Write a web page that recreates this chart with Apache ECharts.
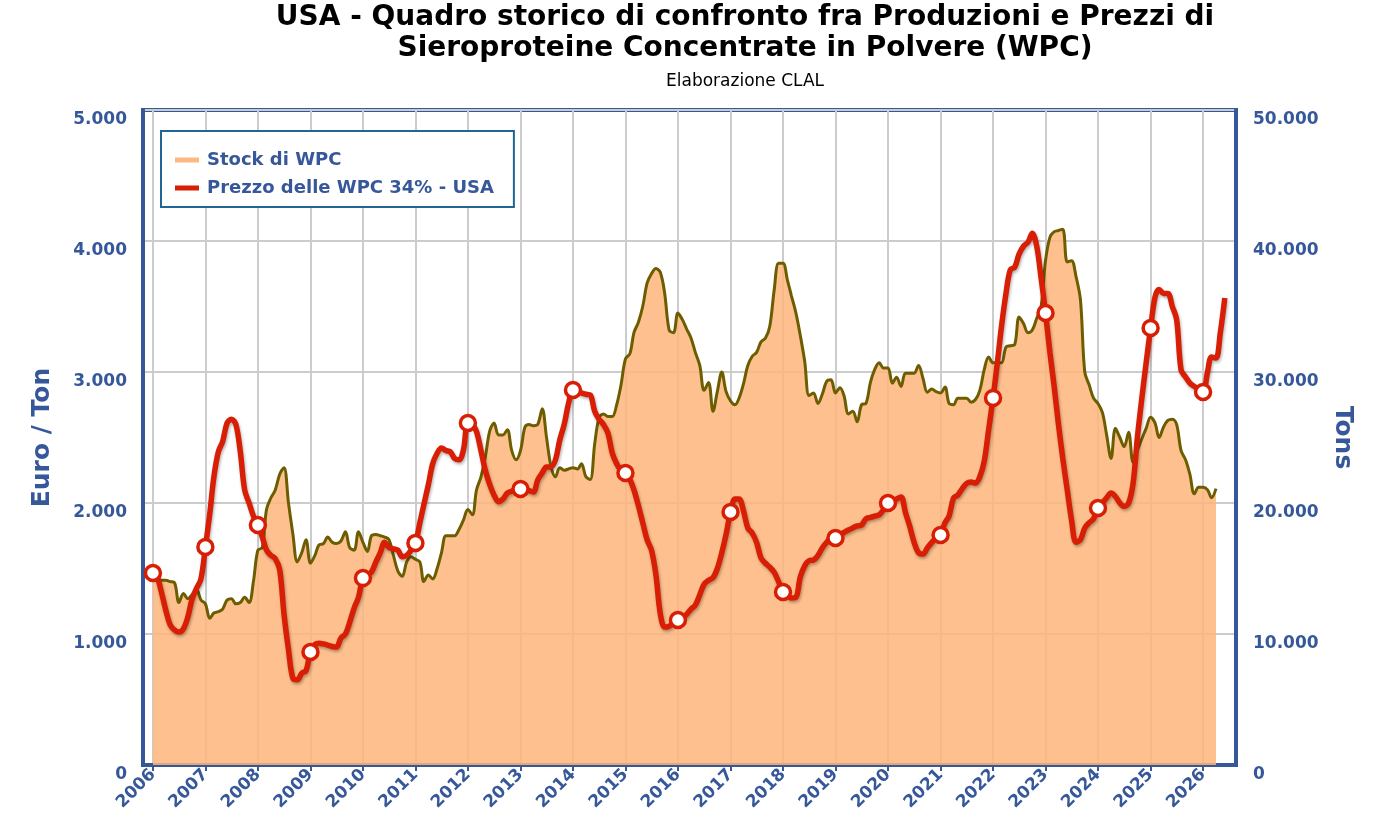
<!DOCTYPE html>
<html>
<head>
<meta charset="utf-8">
<title>USA - WPC</title>
<script src="https://cdn.jsdelivr.net/npm/echarts@6/dist/echarts.min.js"></script>
<style>
  html, body { margin: 0; padding: 0; background: #fff; }
  #chart { width: 1380px; height: 840px; }
</style>
</head>
<body>
<div id="chart"></div>
<script>
// --- DATI (mensili, da gennaio 2006) ---
const startYear = 2006;

// Stock di WPC, tonnellate (asse destro)
const stockTons = [
  14200, 14200, 14100, 14100, 14000, 13900, 12400, 13100, 12700, 13000, 13400, 12600, // 2006
  12300, 11200, 11600, 11700, 11900, 12600, 12700, 12300, 12400, 12800, 12400, 14000, // 2007
  16400, 16600, 19500, 20400, 21000, 22200, 22700, 20000, 17600, 15500, 16200, 17200, // 2008
  15400, 16000, 16800, 16900, 17400, 17000, 16900, 17100, 17800, 16600, 16400, 17800, // 2009
  17000, 16300, 17500, 17600, 17500, 17400, 17200, 16000, 14800, 14400, 15500, 15900, // 2010
  15700, 15500, 14000, 14500, 14200, 15000, 16200, 17500, 17500, 17500, 18000, 18700, // 2011
  19500, 19100, 21000, 22000, 23500, 25500, 26100, 25200, 25200, 25600, 24000, 23300, // 2012
  24000, 25800, 26000, 25900, 26000, 27200, 25000, 22800, 22000, 22700, 22500, 22600, // 2013
  22700, 22600, 23000, 22000, 21800, 24500, 26500, 26800, 26600, 26600, 27500, 29000, // 2014
  31000, 31400, 33000, 33800, 35000, 36800, 37500, 37900, 37600, 36000, 33200, 33000, // 2015
  34500, 34000, 33300, 32600, 31500, 30500, 28600, 29200, 27000, 28500, 30000, 28500, // 2016
  27800, 27500, 28000, 29100, 30500, 31200, 31500, 32300, 32600, 33500, 36300, 38300, // 2017
  38300, 37000, 35800, 34500, 32800, 30800, 28200, 28400, 27600, 28300, 29300, 29400, // 2018
  28400, 28800, 28200, 26800, 27000, 26200, 27500, 27600, 29200, 30200, 30700, 30300, // 2019
  30300, 29150, 29600, 28900, 29900, 29900, 29900, 30500, 29500, 28450, 28700, 28500, // 2020
  28400, 28850, 27600, 27500, 28000, 28000, 28000, 27700, 27900, 28600, 30200, 31150, // 2021
  30700, 30700, 30700, 31900, 32000, 32100, 34200, 33700, 33000, 33200, 34100, 34950, // 2022
  38500, 40300, 40700, 40800, 40900, 38400, 38500, 37300, 35500, 30000, 29000, 28000, // 2023
  27600, 26900, 25200, 23400, 25700, 25000, 24300, 25400, 23100, 24000, 24900, 25700, // 2024
  26550, 26100, 25000, 25800, 26300, 26400, 26000, 24000, 23300, 22200, 20700, 21200, // 2025
  21200, 21000, 20400, 21100                                                          // 2026
];

// Prezzo delle WPC 34% - USA, Euro/Ton (asse sinistro)
const priceEuro = [
  1466, 1430, 1320, 1180, 1070, 1030, 1015, 1040, 1130, 1270, 1350, 1420, // 2006
  1664, 1924, 2200, 2390, 2470, 2610, 2640, 2600, 2390, 2100, 2000, 1900, // 2007
  1832, 1740, 1640, 1600, 1575, 1489, 1150, 880, 660, 650, 700, 720,      // 2008
  863, 920, 930, 925, 915, 905, 900, 970, 1000, 1090, 1200, 1280,         // 2009
  1427, 1450, 1473, 1550, 1620, 1700, 1660, 1650, 1640, 1590, 1600, 1640, // 2010
  1695, 1850, 1990, 2140, 2300, 2380, 2420, 2400, 2390, 2340, 2330, 2405, // 2011
  2611, 2600, 2545, 2400, 2250, 2140, 2060, 2010, 2030, 2076, 2090, 2100, // 2012
  2107, 2110, 2095, 2084, 2176, 2230, 2275, 2275, 2330, 2481, 2600, 2760, // 2013
  2863, 2850, 2840, 2830, 2825, 2700, 2640, 2600, 2534, 2382, 2300, 2250, // 2014
  2229, 2180, 2100, 1980, 1850, 1718, 1640, 1450, 1150, 1053, 1060, 1084, // 2015
  1107, 1120, 1150, 1190, 1220, 1300, 1380, 1410, 1430, 1500, 1620, 1760, // 2016
  1931, 2030, 2030, 1940, 1810, 1770, 1700, 1580, 1540, 1510, 1470, 1400, // 2017
  1321, 1290, 1275, 1280, 1435, 1520, 1560, 1565, 1600, 1657, 1700, 1733, // 2018
  1733, 1760, 1775, 1794, 1810, 1825, 1832, 1880, 1890, 1900, 1910, 1950, // 2019
  2000, 2020, 2030, 2046, 1930, 1820, 1700, 1620, 1610, 1657, 1700, 1730, // 2020
  1756, 1850, 1900, 2038, 2061, 2110, 2150, 2160, 2153, 2200, 2320, 2557, // 2021
  2802, 3080, 3350, 3600, 3779, 3800, 3900, 3960, 3990, 4060, 3960, 3720, // 2022
  3450, 3145, 2900, 2600, 2340, 2100, 1870, 1700, 1720, 1810, 1850, 1880, // 2023
  1962, 2000, 2040, 2076, 2050, 2000, 1975, 2000, 2150, 2500, 2800, 3069, // 2024
  3336, 3573, 3630, 3600, 3600, 3500, 3400, 3015, 2962, 2916, 2890, 2870, // 2025
  2847, 3000, 3115, 3107, 3300, 3565                                      // 2026
];

const seriesNames = ["Stock di WPC", "Prezzo delle WPC 34% - USA"];

// --- COLORI ---
const blue = "#36589a";
const olive = "#6b5d00";
const red = "#d81e05";
const orangeFill = "rgba(253, 181, 122, 0.85)";
const orangeLegend = "#fdb982";
const font = "DejaVu Sans";

function monthDate(i) {
  return Date.UTC(startYear, i, 1);
}

function fmtThousands(v) {
  return String(v).replace(/\B(?=(\d{3})+(?!\d))/g, ".");
}

const stockPoints = stockTons.map((v, i) => [monthDate(i), v]);
const pricePoints = priceEuro.map((v, i) => {
  // marker bianco solo a gennaio
  if (i % 12 === 0) return { value: [monthDate(i), v], symbol: "circle" };
  return { value: [monthDate(i), v], symbol: "none" };
});

const chart = echarts.init(document.getElementById("chart"));
const DAY = 24 * 3600 * 1000;

const yLabel = {
  fontFamily: font,
  fontSize: 17,
  fontWeight: "bold",
  color: blue,
  verticalAlign: "top",
  lineHeight: 19,
  formatter: fmtThousands,
};

const option = {
  animation: false,
  useUTC: true,
  backgroundColor: "#fff",
  textStyle: { fontFamily: font },
  title: {
    text: "USA - Quadro storico di confronto fra Produzioni e Prezzi di\nSieroproteine Concentrate in Polvere (WPC)",
    subtext: "Elaborazione CLAL",
    left: 740,
    textAlign: "center",
    top: -3,
    itemGap: 9,
    textStyle: { fontFamily: font, fontSize: 28, fontWeight: "bold", color: "#000", lineHeight: 31 },
    subtextStyle: { fontFamily: font, fontSize: 17, color: "#000" },
  },
  legend: {
    orient: "vertical",
    left: 161,
    top: 131,
    padding: [20, 20, 10, 14],
    itemGap: 10,
    itemWidth: 24,
    itemHeight: 5,
    icon: "rect",
    borderColor: "#1f6694",
    borderWidth: 2,
    backgroundColor: "#fff",
    textStyle: { fontFamily: font, fontSize: 18, fontWeight: "bold", color: blue, padding: [0, 0, 0, 3] },
    data: [
      { name: seriesNames[0], itemStyle: { color: orangeLegend, borderWidth: 0 } },
      { name: seriesNames[1], itemStyle: { color: red, borderWidth: 0 } },
    ],
  },
  grid: {
    left: 143,
    right: 144,
    top: 110,
    bottom: 75,
    show: true,
    borderColor: blue,
    borderWidth: 4,
    backgroundColor: "#fff",
  },
  xAxis: {
    type: "time",
    min: Date.UTC(2005, 9, 24),
    max: Date.UTC(2026, 7, 18),
    splitNumber: 20,
    minInterval: 365 * DAY,
    maxInterval: 366 * DAY,
    axisLine: { show: true, lineStyle: { color: blue, width: 4 } },
    axisTick: { show: true, length: 6, lineStyle: { color: blue, width: 2 } },
    minorTick: { show: false },
    axisLabel: {
      rotate: 45,
      margin: 7,
      fontFamily: font,
      fontSize: 17,
      fontWeight: "bold",
      color: blue,
      hideOverlap: false,
      formatter: function (value) {
        return String(new Date(value).getUTCFullYear());
      },
    },
    splitLine: { show: true, lineStyle: { color: "#cccccc", width: 2 } },
  },
  yAxis: [
    {
      type: "value",
      min: 0,
      max: 5000,
      interval: 1000,
      name: "Euro / Ton",
      nameLocation: "middle",
      nameGap: 88,
      nameTextStyle: { fontFamily: font, fontSize: 25, fontWeight: "bold", color: blue },
      axisLine: { show: true, lineStyle: { color: blue, width: 4 } },
      axisTick: { show: false },
      axisLabel: Object.assign({ margin: 16 }, yLabel),
      splitLine: { show: true, lineStyle: { color: "#cccccc", width: 2 } },
    },
    {
      type: "value",
      min: 0,
      max: 50000,
      interval: 10000,
      name: "Tons",
      nameLocation: "middle",
      nameGap: 91,
      nameRotate: -90,
      nameTextStyle: { fontFamily: font, fontSize: 25, fontWeight: "bold", color: blue },
      axisLine: { show: true, lineStyle: { color: blue, width: 4 } },
      axisTick: { show: false },
      axisLabel: Object.assign({ margin: 17 }, yLabel),
      splitLine: { show: false },
    },
  ],
  series: [
    {
      name: seriesNames[0],
      type: "line",
      yAxisIndex: 1,
      data: stockPoints,
      smooth: 0.35,
      symbol: "none",
      z: 2,
      itemStyle: { color: orangeLegend },
      lineStyle: { color: olive, width: 3 },
      areaStyle: { color: orangeFill, opacity: 1 },
    },
    {
      name: seriesNames[1],
      type: "line",
      yAxisIndex: 0,
      data: pricePoints,
      smooth: 0.35,
      symbolSize: 15,
      z: 3,
      itemStyle: { color: "#fff", borderColor: red, borderWidth: 3.5 },
      lineStyle: {
        color: red,
        width: 5.5,
        shadowColor: "rgba(0, 0, 0, 0.3)",
        shadowBlur: 3,
        shadowOffsetX: 1,
        shadowOffsetY: 2,
      },
    },
  ],
};

chart.setOption(option);
</script>
</body>
</html>
